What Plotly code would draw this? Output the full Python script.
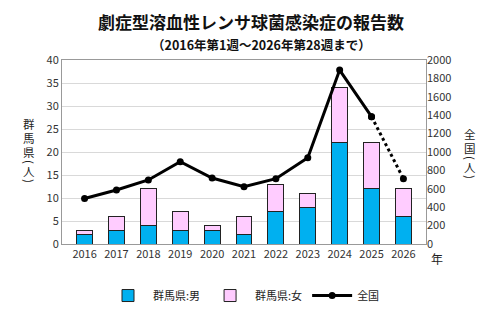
import plotly.graph_objects as go

years = ["2016", "2017", "2018", "2019", "2020", "2021", "2022", "2023", "2024", "2025", "2026"]
gunma_male = [2, 3, 4, 3, 3, 2, 7, 8, 22, 12, 6]
gunma_female = [1, 3, 8, 4, 1, 4, 6, 3, 12, 10, 6]
national = [495, 587, 696, 895, 717, 623, 710, 938, 1891, 1384, 710]

FONT = "Noto Sans CJK JP"
L, R, T, B = 62, 74, 60, 79
W, H = 500, 323
pw, ph = W - L - R, H - T - B


def px(x):
    return (x - L) / pw


def py(y):
    return 1 - (y - T) / ph


fig = go.Figure()
fig.add_trace(go.Bar(x=years, y=gunma_male, name="群馬県:男",
                     marker=dict(color="#00B0F0", line=dict(color="#222222", width=1)),
                     width=0.5))
fig.add_trace(go.Bar(x=years, y=gunma_female, name="群馬県:女",
                     marker=dict(color="#FFCCFF", line=dict(color="#222222", width=1)),
                     width=0.5))
fig.add_trace(go.Scatter(x=years[:-1], y=national[:-1], name="全国", yaxis="y2",
                         mode="lines+markers",
                         line=dict(color="black", width=3),
                         marker=dict(color="black", size=7)))
fig.add_trace(go.Scatter(x=years[-2:], y=national[-2:], yaxis="y2", showlegend=False,
                         mode="lines+markers",
                         line=dict(color="black", width=3, dash="dot"),
                         marker=dict(color="black", size=7)))

anns = [
    dict(text="<b>劇症型溶血性レンサ球菌感染症の報告数</b>", x=px(251), y=py(22),
         font=dict(size=17, color="#111111", family=FONT)),
    dict(text="<b>（2016年第1週～2026年第28週まで）</b>", x=px(261), y=py(45),
         font=dict(size=12.5, color="#111111", family=FONT)),
    dict(text="年", x=px(437), y=py(258),
         font=dict(size=12, color="#222222", family=FONT)),
]
left_chars = [("群", 124, 0), ("馬", 138, 0), ("県", 152, 0), ("(", 162, 90), ("人", 171, 0), (")", 181, 90)]
right_chars = [("全", 134, 0), ("国", 148, 0), ("(", 158, 90), ("人", 167, 0), (")", 177, 90)]
for ch, y, ang in left_chars:
    anns.append(dict(text=ch, x=px(29), y=py(y), textangle=ang,
                     font=dict(size=11.5, color="#222222", family=FONT)))
for ch, y, ang in right_chars:
    anns.append(dict(text=ch, x=px(470), y=py(y), textangle=ang,
                     font=dict(size=11.5, color="#222222", family=FONT)))
for a in anns:
    a.update(xref="paper", yref="paper", showarrow=False, xanchor="center", yanchor="middle")

fig.update_layout(
    width=W, height=H,
    margin=dict(l=L, r=R, t=T, b=B),
    barmode="stack",
    paper_bgcolor="white", plot_bgcolor="white",
    font=dict(family=FONT, size=11, color="#333333"),
    showlegend=True,
    legend=dict(orientation="h", x=0.5, xanchor="center", y=-0.28, yanchor="middle",
                font=dict(size=11, color="#222222"), itemwidth=40, traceorder="normal"),
    xaxis=dict(showline=True, linecolor="#999999", mirror=True, ticks="",
               tickfont=dict(size=11, color="#333333")),
    yaxis=dict(range=[0, 40], dtick=5, showgrid=True, gridcolor="#D9D9D9",
               showline=True, linecolor="#999999", mirror=True, ticks="",
               tickfont=dict(size=11, color="#333333")),
    yaxis2=dict(range=[0, 2000], dtick=200, overlaying="y", side="right",
                showgrid=False, showline=False, ticks="",
                tickfont=dict(size=11, color="#333333")),
    annotations=anns,
)

fig.write_html("out.html")
